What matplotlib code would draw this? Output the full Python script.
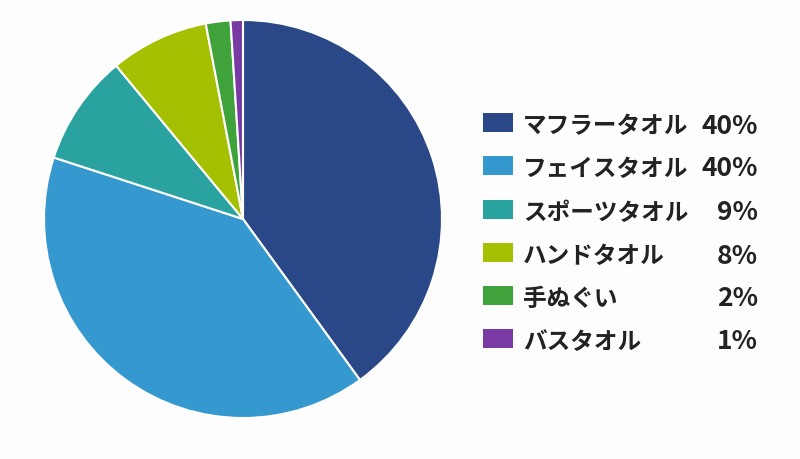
import matplotlib.pyplot as plt
from matplotlib.patches import Rectangle

plt.rcParams['font.family'] = ['Noto Sans CJK JP', 'DejaVu Sans']

labels = ['マフラータオル', 'フェイスタオル', 'スポーツタオル', 'ハンドタオル', '手ぬぐい', 'バスタオル']
values = [40, 40, 9, 8, 2, 1]
colors = ['#2a4888', '#3599cf', '#2aa3a0', '#a5c000', '#40a23a', '#7a3aa3']

fig = plt.figure(figsize=(8, 4.6), dpi=100, facecolor='#fdfdfd')

# pie: centre ~ (243, 220) px, radius ~199 px
ax = fig.add_axes([44 / 800, 41 / 460, 398 / 800, 398 / 460])
ax.pie(values, colors=colors, startangle=90, counterclock=False,
       wedgeprops=dict(edgecolor='white', linewidth=1.5))
ax.set_aspect('equal')
ax.set_xlim(-1, 1)
ax.set_ylim(-1, 1)
ax.axis('off')

# legend drawn by hand
row_y = [124, 167, 211, 254, 297, 340]
for lab, val, col, y in zip(labels, values, colors, row_y):
    fy = 1 - y / 460
    fig.patches.append(Rectangle((483 / 800, fy - 9 / 460), 30 / 800, 19 / 460,
                                 transform=fig.transFigure, facecolor=col,
                                 edgecolor='none'))
    ty = fy - 2 / 460
    fig.text(523 / 800, ty, lab, fontsize=17, fontweight='bold',
             color='#222222', va='center', ha='left')
    fig.text(758 / 800, ty, f'{val}%', fontsize=19, fontweight='bold',
             color='#222222', va='center', ha='right')

fig.savefig('out.png', dpi=100, facecolor=fig.get_facecolor())
